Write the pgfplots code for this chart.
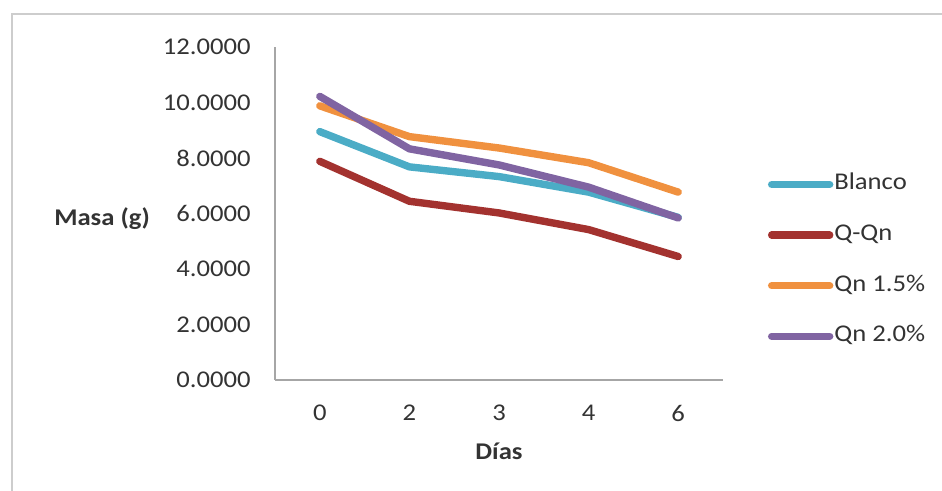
\documentclass[border=0pt]{standalone}
\usepackage{fontspec}
\setmainfont{Carlito}[FakeStretch=1.11]
\usepackage{pgfplots}
\pgfplotsset{compat=1.18}
\definecolor{cBlanco}{HTML}{4BACC6}
\definecolor{cQQn}{HTML}{A3322F}
\definecolor{cQn15}{HTML}{F0913F}
\definecolor{cQn20}{HTML}{8064A2}
\definecolor{txt}{HTML}{333333}
\definecolor{axgray}{HTML}{A6A6A6}
\definecolor{frame}{HTML}{CDCDCD}
\begin{document}
\fontsize{12}{14}\selectfont
\begin{tikzpicture}
\path[use as bounding box] (0,0) rectangle (471pt,245.5pt);
\draw[frame, line width=1pt] (6pt,-3pt) -- (6pt,238.5pt) -- (476pt,238.5pt);
\begin{axis}[
  at={(137.5pt,55.5pt)}, anchor=south west,
  scale only axis, width=224pt, height=166.5pt,
  xmin=-0.5, xmax=4.5, ymin=0, ymax=12,
  axis lines*=left,
  axis line style={axgray, line width=1pt, -},
  xtick={0,1,2,3,4}, xticklabels={0,2,3,4,6},
  ytick={0,2,4,6,8,10,12},
  yticklabels={0.0000,2.0000,4.0000,6.0000,8.0000,10.0000,12.0000},
  major tick length=0pt,
  tick label style={text=txt, font=\fontsize{12}{14}\selectfont},
  xticklabel style={anchor=center, yshift=-16.5pt, inner sep=0pt},
  yticklabel style={anchor=east, xshift=-12pt, inner sep=0pt},
  xlabel={Días},
  xlabel style={at={(axis description cs:0.5,0)}, anchor=center, yshift=-35.5pt, font=\bfseries\fontsize{12}{14}\selectfont, text=txt},
  ylabel={Masa (g)},
  ylabel style={at={(axis description cs:-0.386,0.486)}, rotate=-90, anchor=center, font=\bfseries\fontsize{12}{14}\selectfont, text=txt},
  every axis plot/.append style={line width=3.7pt, line join=round, line cap=round},
  legend image code/.code={\draw[#1, line cap=round] (0pt,0pt) -- (29pt,0pt);},
  legend cell align=left,
  legend style={at={(axis description cs:1.1004,0.6186)}, anchor=north west,
    draw=none, fill=none, inner sep=0pt, outer sep=0pt,
    row sep=14.8pt, column sep=0.5pt,
    nodes={inner sep=0pt, text height=8pt, text depth=2.5pt, text=txt,
      font=\fontsize{12}{14}\selectfont}},
]
\addplot[cBlanco] coordinates {(0,8.95) (1,7.68) (2,7.33) (3,6.77) (4,5.86)};
\addlegendentry{Blanco}
\addplot[cQQn] coordinates {(0,7.88) (1,6.44) (2,6.02) (3,5.42) (4,4.45)};
\addlegendentry{Q-Qn}
\addplot[cQn15] coordinates {(0,9.88) (1,8.77) (2,8.36) (3,7.83) (4,6.77)};
\addlegendentry{Qn 1.5\%}
\addplot[cQn20] coordinates {(0,10.22) (1,8.33) (2,7.75) (3,6.95) (4,5.84)};
\addlegendentry{Qn 2.0\%}
\end{axis}
\end{tikzpicture}
\end{document}
